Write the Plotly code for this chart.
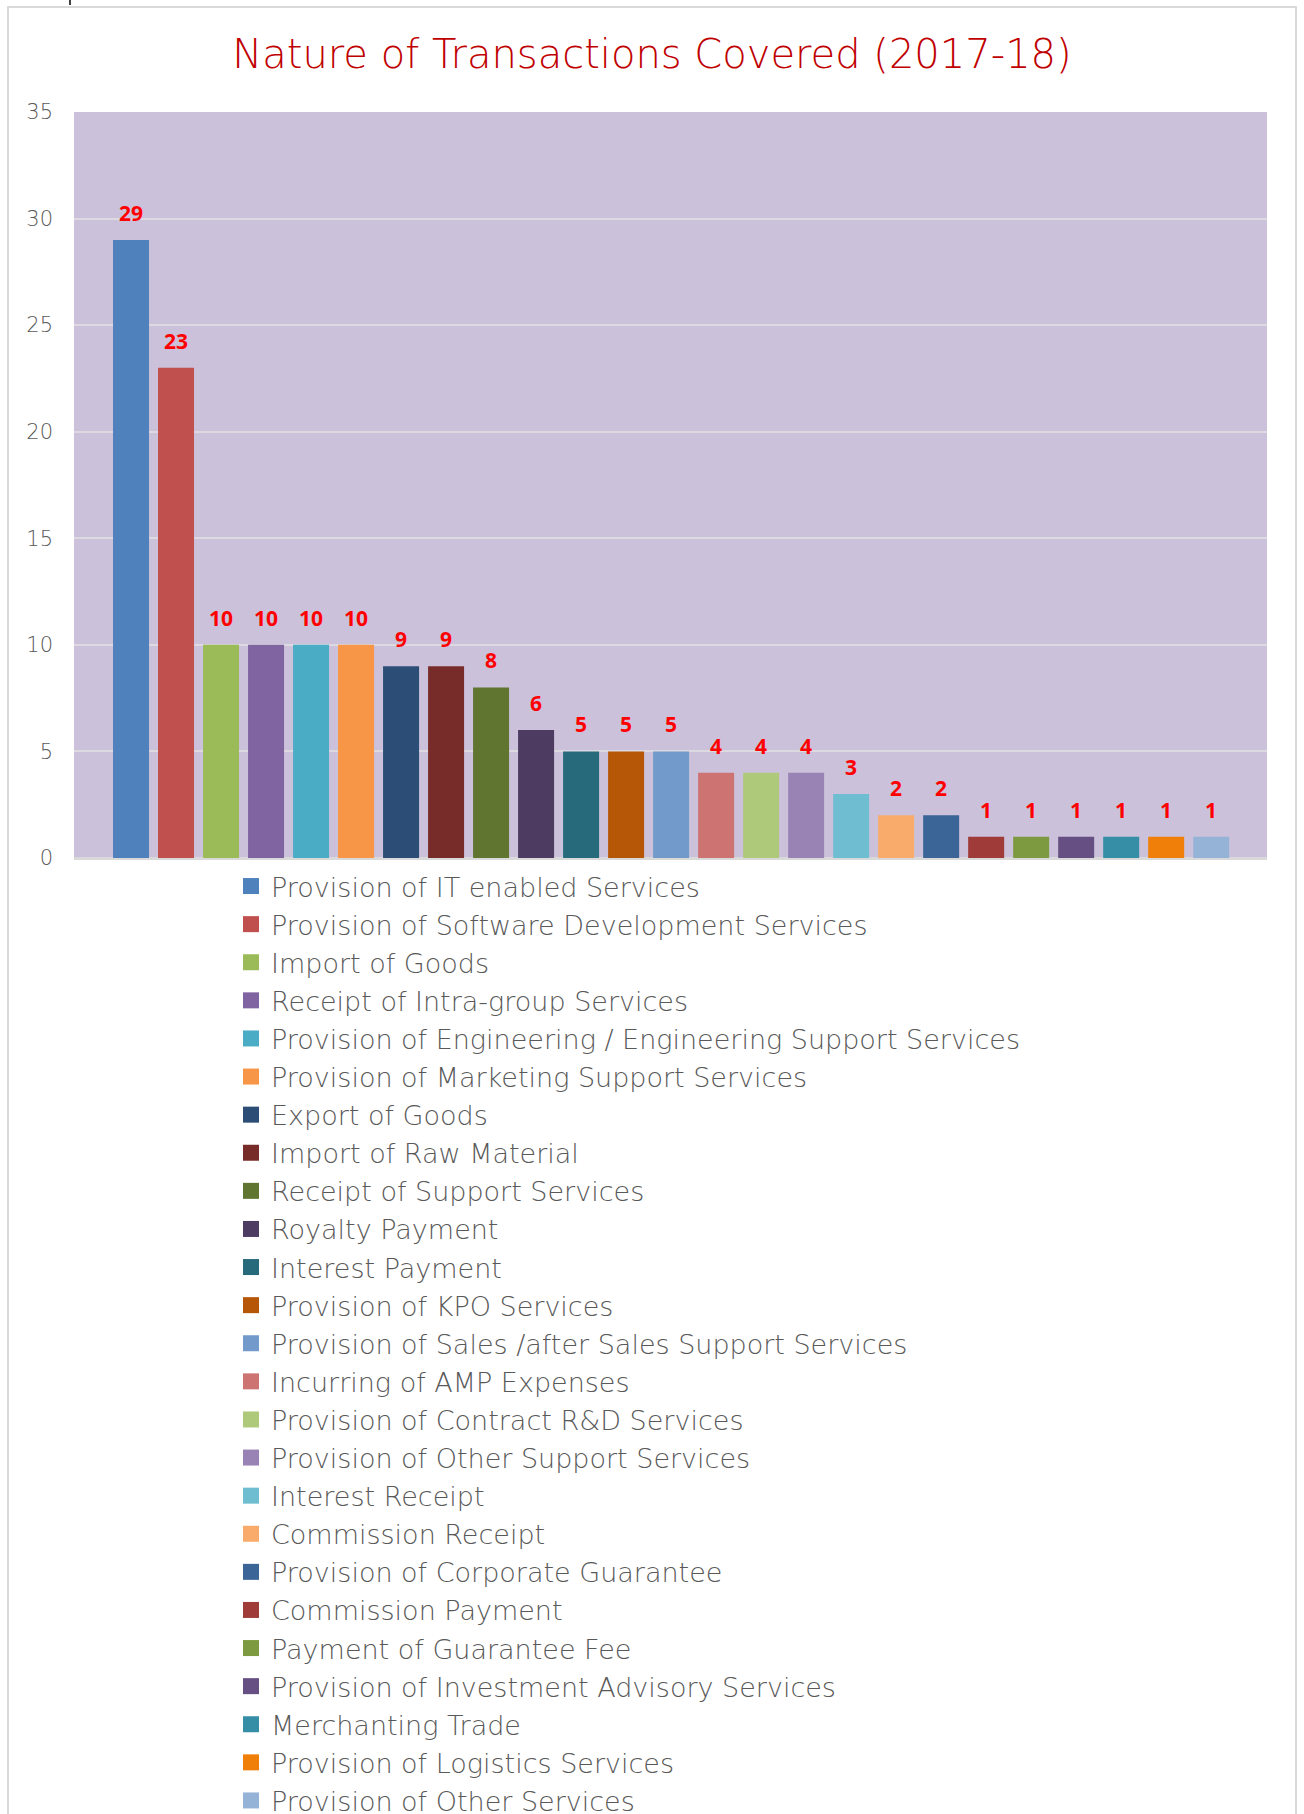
import plotly.graph_objects as go

categories = [
    "Provision of IT enabled Services",
    "Provision of Software Development Services",
    "Import of Goods",
    "Receipt of Intra-group Services",
    "Provision of Engineering / Engineering Support Services",
    "Provision of Marketing Support Services",
    "Export of Goods",
    "Import of Raw Material",
    "Receipt of Support Services",
    "Royalty Payment",
    "Interest Payment",
    "Provision of KPO Services",
    "Provision of Sales /after Sales Support Services",
    "Incurring of AMP Expenses",
    "Provision of Contract R&D Services",
    "Provision of Other Support Services",
    "Interest Receipt",
    "Commission Receipt",
    "Provision of Corporate Guarantee",
    "Commission Payment",
    "Payment of Guarantee Fee",
    "Provision of Investment Advisory Services",
    "Merchanting Trade",
    "Provision of Logistics Services",
    "Provision of Other Services",
]
values = [29, 23, 10, 10, 10, 10, 9, 9, 8, 6, 5, 5, 5, 4, 4, 4, 3, 2, 2, 1, 1, 1, 1, 1, 1]
colors = [
    "#4F81BD", "#C0504D", "#9BBB59", "#8064A2", "#4BACC6", "#F79646",
    "#2C4D75", "#772C2A", "#5F7530", "#4D3B62", "#276A7C", "#B65708",
    "#729ACA", "#CD7371", "#AFC97A", "#9983B5", "#6FBDD1", "#F9AB6B",
    "#3A6596", "#9F3B38", "#7E9A40", "#664F83", "#358EA6", "#F07F09",
    "#95B3D7",
]
y_ticks = [0, 5, 10, 15, 20, 25, 30, 35]

FONT = "DejaVu Sans"

fig = go.Figure()
for cat, val, col in zip(categories, values, colors):
    fig.add_trace(go.Bar(x=[cat], y=[val], name=cat, marker=dict(color=col, line=dict(width=0)),
                         width=0.8, hoverinfo="name+y", showlegend=False, legendgroup=cat))
# legend entries with larger square swatches
for cat, col in zip(categories, colors):
    fig.add_trace(go.Scatter(x=[None], y=[None], mode="markers", name=cat, legendgroup=cat,
                             marker=dict(symbol="square", size=16, color=col, line=dict(width=0)),
                             showlegend=True, hoverinfo="skip"))

annotations = []
for cat, val in zip(categories, values):
    annotations.append(dict(x=cat, y=val, text=str(val), showarrow=False, yanchor="bottom",
                            yshift=11, font=dict(family="Open Sans", size=21, color="#FF0000", weight="bold")))

L, R, T, B = 74, 37, 112, 956
W, H = 1304, 1814
pw, ph = W - L - R, H - T - B

def px_x(x):
    return (x - L) / pw

def px_y(y):
    return (H - B - y) / ph

fig.update_layout(
    width=W, height=H,
    margin=dict(l=L, r=R, t=T, b=B, pad=0, autoexpand=False),
    paper_bgcolor="white",
    plot_bgcolor="#CCC1DA",
    barmode="overlay",
    title=dict(text="Nature of Transactions Covered (2017-18)", x=0.5, xref="container", xanchor="center",
               y=1 - 54 / H, yanchor="middle",
               font=dict(family=FONT, size=40, color="#C00000", weight=200)),
    xaxis=dict(type="category", categoryorder="array", categoryarray=categories,
               showticklabels=False, showgrid=False, zeroline=False,
               range=[-1.267, 25.24], fixedrange=True),
    yaxis=dict(range=[0, 35], tickvals=y_ticks, showgrid=True, gridcolor="#DCD9E0", gridwidth=2,
               zeroline=True, zerolinecolor="#D9D9D9", zerolinewidth=3,
               tickfont=dict(family=FONT, size=21, color="#595959", weight=200),
               ticklabelstandoff=20, ticks=""),
    showlegend=True,
    legend=dict(x=px_x(231), y=px_y(862), xanchor="left", yanchor="top", maxheight=1200,
                font=dict(family=FONT, size=27, color="#595959", weight=200),
                bgcolor="rgba(0,0,0,0)", traceorder="normal", itemclick=False, itemsizing="trace"),
    annotations=annotations,
    shapes=[dict(type="rect", xref="paper", yref="paper",
                 x0=px_x(8), x1=px_x(1296), y0=px_y(1830), y1=px_y(7),
                 line=dict(color="#D9D9D9", width=2), layer="below"),
            dict(type="line", xref="paper", yref="paper",
                 x0=px_x(70), x1=px_x(70), y0=px_y(0), y1=px_y(5),
                 line=dict(color="#404040", width=2))],
)

fig.write_html("out.html")
